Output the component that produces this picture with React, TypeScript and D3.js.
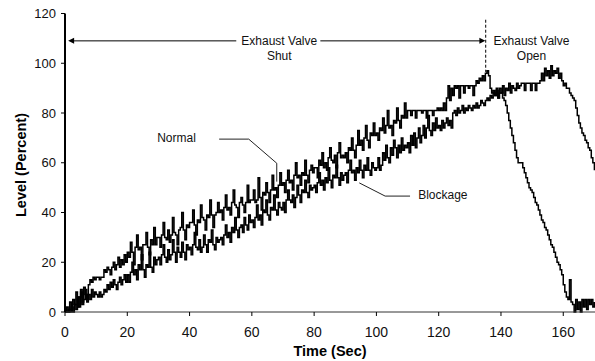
import React from "react";
import * as d3 from "d3";

const SAMPLE_STEP = 0.5;

const normalLevel: number[] = [
  0, 2, 0, 4, 1, 5, 3, 8, 2, 6, 9, 4, 10, 7, 5, 11, 13, 12, 14, 13,
  14, 14, 13, 14, 14, 17, 16, 18, 17, 15, 18, 20, 17, 19, 22, 18, 21, 19, 23, 20,
  24, 22, 28, 24, 19, 26, 31, 25, 26, 21, 27, 27, 32, 26, 23, 29, 27, 34, 27, 30,
  30, 26, 31, 36, 30, 29, 33, 28, 31, 38, 32, 31, 27, 33, 34, 40, 33, 29, 35, 34,
  36, 36, 41, 35, 31, 37, 36, 43, 38, 37, 33, 39, 38, 45, 39, 34, 39, 40, 44, 40,
  41, 37, 42, 47, 41, 42, 39, 44, 49, 43, 42, 38, 44, 46, 43, 40, 44, 51, 44, 45,
  45, 49, 44, 45, 54, 46, 41, 48, 47, 52, 48, 44, 49, 55, 49, 50, 46, 51, 56, 51,
  52, 48, 53, 57, 52, 53, 49, 55, 60, 54, 55, 51, 56, 55, 61, 55, 52, 57, 59, 56,
  58, 58, 54, 61, 59, 64, 58, 60, 57, 62, 66, 61, 60, 63, 58, 64, 68, 62, 63, 62,
  64, 60, 66, 65, 70, 65, 62, 67, 73, 67, 69, 65, 70, 75, 69, 66, 72, 71, 76, 71,
  72, 69, 74, 73, 78, 72, 75, 81, 74, 75, 71, 77, 76, 82, 77, 74, 79, 78, 84, 78,
  81, 81, 79, 81, 81, 78, 81, 81, 81, 80, 81, 81, 78, 81, 81, 81, 79, 81, 81, 82,
  81, 82, 81, 84, 81, 86, 91, 85, 90, 87, 91, 90, 91, 86, 91, 91, 88, 91, 91, 90,
  91, 91, 87, 91, 93, 92, 94, 93, 95, 93, 96, 97, 95, 90, 88, 89, 87, 90, 86, 88,
  88, 86, 85, 83, 80, 77, 74, 71, 68, 65, 62, 60, 60, 60, 58, 56, 54, 52, 50, 49,
  48, 46, 44, 43, 41, 39, 37, 36, 34, 33, 31, 29, 27, 26, 24, 22, 20, 19, 17, 15,
  11, 8, 6, 5, 13, 4, 3, 0, 5, 1, 4, 0, 5, 2, 5, 1, 5, 3, 5, 2,
  4,
];

const blockageLevel: number[] = [
  0, 0, 1, 0, 2, 0, 3, 1, 6, 2, 8, 3, 5, 9, 4, 7, 5, 9, 6, 8,
  7, 6, 8, 6, 7, 9, 8, 11, 9, 12, 10, 13, 11, 9, 12, 14, 11, 13, 15, 12,
  15, 12, 16, 20, 15, 17, 13, 19, 17, 23, 17, 14, 19, 18, 24, 18, 16, 22, 19, 21,
  22, 19, 23, 27, 22, 20, 25, 21, 23, 29, 24, 20, 26, 24, 22, 28, 24, 21, 27, 25,
  26, 23, 27, 32, 26, 25, 29, 24, 26, 31, 27, 24, 29, 28, 33, 27, 25, 30, 28, 29,
  30, 27, 31, 35, 30, 32, 28, 34, 32, 38, 33, 30, 34, 35, 32, 38, 35, 33, 39, 36,
  37, 34, 38, 43, 37, 39, 35, 41, 40, 45, 39, 37, 42, 41, 47, 41, 39, 44, 42, 41,
  44, 40, 45, 49, 45, 44, 47, 42, 46, 51, 47, 44, 49, 48, 53, 48, 46, 51, 49, 50,
  51, 48, 52, 56, 51, 53, 49, 54, 52, 58, 53, 50, 55, 54, 59, 54, 51, 56, 53, 55,
  56, 52, 57, 61, 56, 57, 53, 58, 56, 61, 57, 54, 59, 57, 62, 57, 55, 60, 58, 57,
  58, 62, 57, 59, 64, 61, 67, 62, 60, 66, 63, 69, 66, 62, 67, 64, 70, 65, 67, 66,
  68, 64, 71, 67, 72, 66, 70, 74, 68, 71, 75, 70, 74, 79, 73, 71, 76, 73, 78, 74,
  75, 73, 77, 74, 76, 78, 75, 77, 74, 80, 81, 79, 82, 80, 81, 83, 80, 82, 81, 83,
  82, 81, 83, 82, 84, 82, 83, 85, 84, 83, 85, 86, 85, 87, 86, 88, 87, 89, 86, 90,
  88, 91, 87, 90, 89, 92, 88, 91, 90, 89, 92, 90, 91, 92, 92, 89, 92, 92, 92, 89,
  92, 92, 89, 92, 92, 93, 96, 93, 98, 95, 97, 94, 99, 95, 97, 96, 98, 94, 96, 93,
  91, 92, 90, 90, 88, 87, 86, 85, 82, 79, 76, 74, 72, 71, 69, 68, 66, 65, 62, 60,
  57,
];

const xTicks = [0, 20, 40, 60, 80, 100, 120, 140, 160];
const yTicks = [0, 20, 40, 60, 80, 100, 120];

const xTitle = "Time (Sec)";
const yTitle = "Level (Percent)";

// annotations in data units (time, level)
const shutArrow = { from: 1, to: 135, level: 109, gapFrom: 55, gapTo: 82 };
const shutLabel = { t: 68.8, lines: ["Exhaust Valve", "Shut"] };
const openLabel = { t: 149.8, lines: ["Exhaust Valve", "Open"] };
const valveOpenTime = 135.1;
const valveMarker = { top: 117.5, bottom: 96.5 };
const normalLabel = { text: "Normal", t: 29.6, level: 68.5 };
const normalLeader: [number, number][] = [[49.5, 69.5], [59, 69.5], [68, 59.8], [68, 52.4]];
const blockageLabel = { text: "Blockage", t: 113.4, level: 45.3 };
const blockageLeader: [number, number][] = [[94.5, 51.9], [102.8, 46.6], [110.8, 46.6]];

const W = 595;
const H = 361;
const FONT = "'Liberation Sans', Arial, Helvetica, sans-serif";

export default function App() {
  const x = d3.scaleLinear().domain([0, 170]).range([65, 594.4]);
  const y = d3.scaleLinear().domain([0, 120]).range([312, 13.5]);

  const series = d3
    .line<number>()
    .x((_, i) => x(i * SAMPLE_STEP))
    .y((d) => y(d))
    .curve(d3.curveStepAfter);

  const poly = d3
    .line<[number, number]>()
    .x((d) => x(d[0]))
    .y((d) => y(d[1]));

  const arrowY = y(shutArrow.level);
  const ax0 = x(shutArrow.from);
  const ax1 = x(shutArrow.to);

  return (
    <div style={{ position: "absolute", left: 0, top: 0 }}>
      <svg width={W} height={H} style={{ display: "block", background: "#fff" }} fontFamily={FONT}>
        {/* data */}
        <path d={series(normalLevel) || ""} fill="none" stroke="#000" strokeWidth={1.5} />
        <path d={series(blockageLevel) || ""} fill="none" stroke="#000" strokeWidth={1.5} />

        {/* x axis */}
        <line x1={x(0)} x2={W} y1={y(0)} y2={y(0)} stroke="#333" strokeWidth={1} />
        {xTicks.map((t) => (
          <g key={"xt" + t}>
            <line x1={x(t)} x2={x(t)} y1={y(0)} y2={y(0) + 4} stroke="#000" strokeWidth={1} />
            <text x={x(t)} y={337} textAnchor="middle" fontSize={14} fill="#111">
              {t}
            </text>
          </g>
        ))}
        <text x={330} y={355.5} textAnchor="middle" fontSize={14.5} fontWeight="bold" fill="#000">
          {xTitle}
        </text>

        {/* y axis */}
        <line x1={x(0)} x2={x(0)} y1={y(120)} y2={y(0)} stroke="#000" strokeWidth={2} />
        {yTicks.map((v) => (
          <g key={"yt" + v}>
            <line x1={x(0) - 4} x2={x(0)} y1={y(v)} y2={y(v)} stroke="#000" strokeWidth={1} />
            <text x={56} y={y(v) + 4.6} textAnchor="end" fontSize={13} fill="#111">
              {v}
            </text>
          </g>
        ))}
        <text
          transform={`translate(26,165) rotate(-90)`}
          textAnchor="middle"
          fontSize={14.5}
          fontWeight="bold"
          fill="#000"
        >
          {yTitle}
        </text>

        {/* exhaust valve shut arrow */}
        <line x1={ax0 + 5} x2={x(shutArrow.gapFrom)} y1={arrowY} y2={arrowY} stroke="#000" strokeWidth={1} />
        <line x1={x(shutArrow.gapTo)} x2={ax1 - 5} y1={arrowY} y2={arrowY} stroke="#000" strokeWidth={1} />
        <path d={`M${ax0},${arrowY} l6,-3 l0,6 z`} fill="#000" />
        <path d={`M${ax1},${arrowY} l-6,-3 l0,6 z`} fill="#000" />
        {shutLabel.lines.map((s, i) => (
          <text key={"sl" + i} x={x(shutLabel.t)} y={45 + i * 15} textAnchor="middle" fontSize={12} fill="#111">
            {s}
          </text>
        ))}

        {/* valve open marker */}
        <line
          x1={x(valveOpenTime)}
          x2={x(valveOpenTime)}
          y1={y(valveMarker.top)}
          y2={y(valveMarker.bottom)}
          stroke="#000"
          strokeWidth={1}
          strokeDasharray="3,2"
        />
        {openLabel.lines.map((s, i) => (
          <text key={"ol" + i} x={x(openLabel.t)} y={45 + i * 15} textAnchor="middle" fontSize={12} fill="#111">
            {s}
          </text>
        ))}

        {/* series labels */}
        <text x={x(normalLabel.t)} y={y(normalLabel.level)} fontSize={12} fill="#111">
          {normalLabel.text}
        </text>
        <path d={poly(normalLeader) || ""} fill="none" stroke="#222" strokeWidth={1} />
        <text x={x(blockageLabel.t)} y={y(blockageLabel.level)} fontSize={12} fill="#111">
          {blockageLabel.text}
        </text>
        <path d={poly(blockageLeader) || ""} fill="none" stroke="#222" strokeWidth={1} />
      </svg>
    </div>
  );
}
